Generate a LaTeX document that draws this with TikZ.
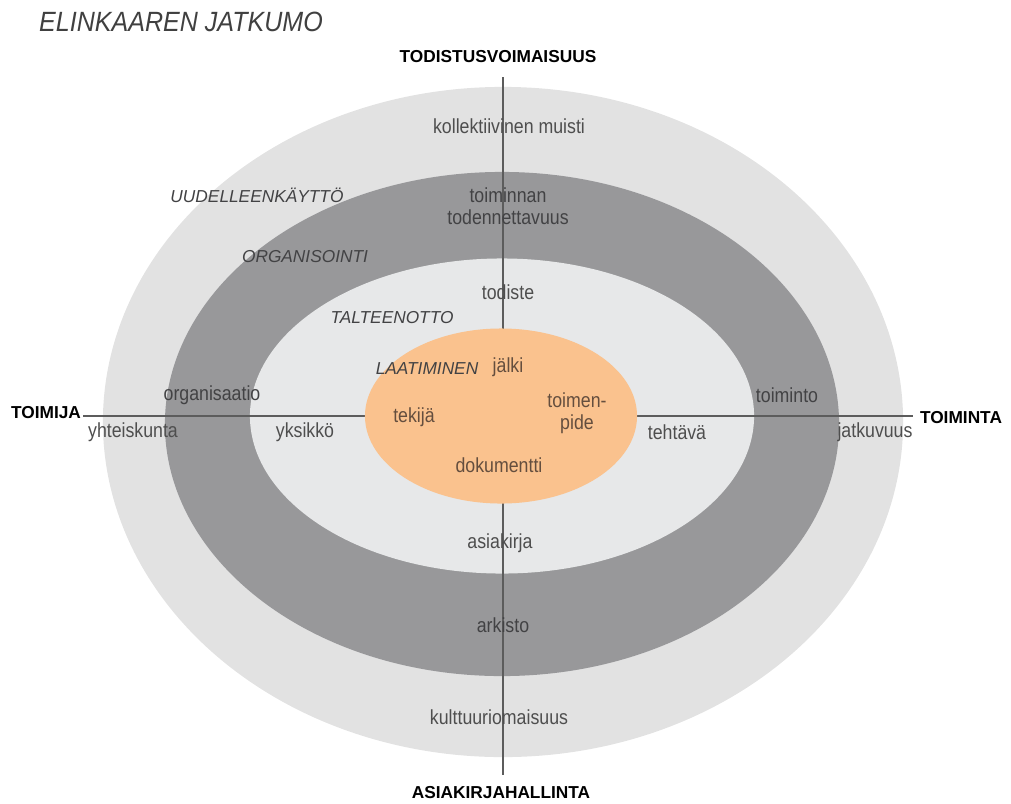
\documentclass[tikz,border=0pt]{standalone}
\usepackage{fontspec}
\setmainfont{Liberation Sans}
\usetikzlibrary{shapes.geometric}
\definecolor{outergray}{RGB}{226,226,226}
\definecolor{ringgray}{RGB}{152,152,154}
\definecolor{innergray}{RGB}{231,232,233}
\definecolor{orangefill}{RGB}{250,194,142}
\definecolor{labelgray}{RGB}{78,78,78}
\definecolor{ringtext}{RGB}{66,66,68}
\definecolor{orangetext}{RGB}{100,78,62}
\definecolor{axisgray}{RGB}{92,92,92}
\tikzset{
  band/.style={ellipse, inner sep=0pt, draw=none},
  lbl/.style={font=\fontsize{14.5}{15}\selectfont, text=labelgray, xscale=0.87, transform shape, inner sep=0pt, align=center},
  ringlbl/.style={lbl, text=ringtext},
  orlbl/.style={lbl, text=orangetext},
  phase/.style={font=\fontsize{12.3}{14}\selectfont\itshape, text=ringtext, inner sep=0pt},
  axislbl/.style={font=\fontsize{12.3}{14}\selectfont\bfseries, text=black, inner sep=0pt},
  axisline/.style={draw=axisgray, line width=0.9pt}
}
\begin{document}
\begin{tikzpicture}[x=0.025cm, y=-0.025cm]
\useasboundingbox (0,0) rectangle (1011,803);
% bands
\node[band, fill=outergray, minimum width=20cm, minimum height=16.75cm] (outer) at (503,422) {};
\node[band, fill=ringgray, minimum width=16.85cm, minimum height=12.6cm] (ring) at (502,424) {};
\node[band, fill=innergray, minimum width=12.6cm, minimum height=7.875cm] (inner) at (502,416) {};
% axes
\coordinate (atop) at (503,77);
\coordinate (abot) at (503,775);
\coordinate (aleft) at (83,416);
\coordinate (aright) at (913,416);
\draw[axisline] (atop) -- (abot);
\draw[axisline] (aleft) -- (aright);
% core
\node[band, fill=orangefill, minimum width=6.8cm, minimum height=4.375cm] (core) at (501,416) {};
% title
\node[font=\fontsize{19.8}{22}\selectfont\itshape, text=black!75, xscale=0.9, transform shape, inner sep=0pt] (title) at (181,22) {ELINKAAREN JATKUMO};
% axis labels
\node[axislbl] (todistus) at (498,57) {TODISTUSVOIMAISUUS};
\node[axislbl] (asiak) at (501,793) {ASIAKIRJAHALLINTA};
\node[axislbl] (toimija) at (46,413) {TOIMIJA};
\node[axislbl] (toiminta) at (961,418) {TOIMINTA};
% phase labels
\node[phase] (uud) at (257,195) {UUDELLEENKÄYTTÖ};
\node[phase] (org) at (305,257) {ORGANISOINTI};
\node[phase] (tal) at (392,318) {TALTEENOTTO};
\node[phase] (laa) at (427,369) {LAATIMINEN};
% vertical labels
\node[lbl] (kollekt) at (509,126) {kollektiivinen muisti};
\node[ringlbl] (toimtod) at (508,206) {toiminnan\\[1pt]todennettavuus};
\node[lbl] (todiste) at (508,292) {todiste};
\node[orlbl] (jalki) at (508,367) {jälki};
\node[orlbl] (dokum) at (499,465) {dokumentti};
\node[lbl] (asiakirja) at (500,543) {asiakirja};
\node[ringlbl] (arkisto) at (503,625) {arkisto};
\node[lbl] (kulttuuri) at (499,717) {kulttuuriomaisuus};
% horizontal labels
\node[orlbl] (tekija) at (414,417) {tekijä};
\node[orlbl] (toimenpide) at (577,413) {toimen-\\[1pt]pide};
\node[ringlbl] (organis) at (212,395) {organisaatio};
\node[lbl] (yhteis) at (133,432) {yhteiskunta};
\node[lbl] (yksikko) at (305,432) {yksikkö};
\node[ringlbl] (toiminto) at (787,395) {toiminto};
\node[lbl] (tehtava) at (677,432) {tehtävä};
\node[lbl] (jatkuvuus) at (875,432) {jatkuvuus};
\end{tikzpicture}
\end{document}
